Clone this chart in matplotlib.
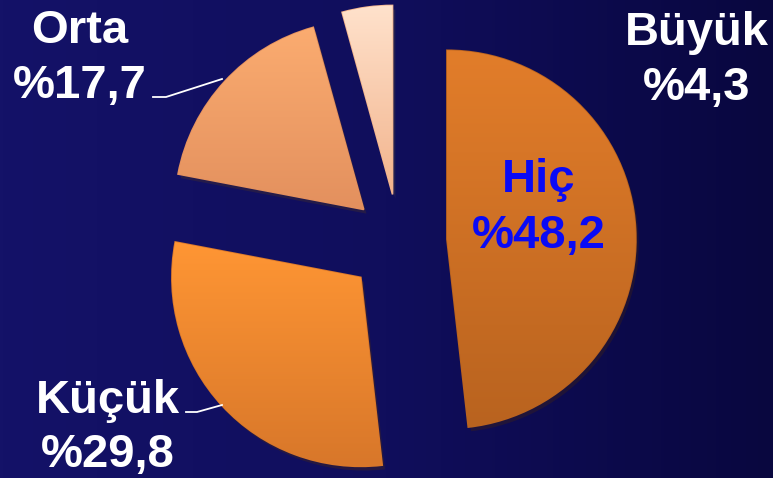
import numpy as np
import matplotlib
matplotlib.use("Agg")
import matplotlib.pyplot as plt
from matplotlib.colors import LinearSegmentedColormap
import matplotlib.patheffects as pe

# data
labels = ["Hiç", "Küçük", "Orta", "Büyük"]
values = [48.2, 29.8, 17.7, 4.3]
pct_text = ["%48,2", "%29,8", "%17,7", "%4,3"]

# slice colours (top, bottom of the soft gradient)
top_colors = ["#E27D2A", "#FF9634", "#FBAC70", "#FFE2CC"]
bot_colors = ["#B9631F", "#D8772A", "#E3905E", "#F2B38C"]
text_colors = ["#0A0AF5", "white", "white", "white"]

# label layout in pixel coords (x centre, baseline of name, baseline of pct)
label_pos = [(539, 192, 248), (108, 413, 467), (80, 43, 98), (697, 45, 100)]

W, H = 773, 478
fig = plt.figure(figsize=(W / 100, H / 100), dpi=100)
ax = fig.add_axes([0, 0, 1, 1])

# navy background, a bit darker towards the right
bg = LinearSegmentedColormap.from_list("bg", ["#141268", "#100E5C", "#09073F"])
grad = np.linspace(0, 1, 256).reshape(1, -1)
ax.imshow(grad, extent=(0, W, 0, H), cmap=bg, aspect="auto", zorder=0)

wedges, _ = ax.pie(values, startangle=90, counterclock=False,
                   radius=189, center=(399, H - 242),
                   explode=[48, 52, 48, 48],
                   colors=top_colors,
                   wedgeprops=dict(linewidth=1.2, zorder=2))

for w, c1, c2 in zip(wedges, top_colors, bot_colors):
    w.set_edgecolor(c2)
    bb = w.get_path().get_extents()
    cm = LinearSegmentedColormap.from_list("w", [c1, c2])
    g = np.linspace(0, 1, 256).reshape(-1, 1)
    im = ax.imshow(g, extent=(bb.x0, bb.x1, bb.y0, bb.y1), cmap=cm,
                   aspect="auto", origin="upper", zorder=3)
    im.set_clip_path(w)
    w.set_path_effects([pe.SimplePatchShadow(offset=(2, -3), alpha=0.35),
                        pe.Normal()])

# leader lines
ax.plot([153, 166, 222], [H - 97, H - 97, H - 79], color="white", lw=1.3, zorder=4)
ax.plot([186, 197, 222], [H - 412, H - 412, H - 405], color="white", lw=1.3, zorder=4)

for name, pct, col, (x, y1, y2) in zip(labels, pct_text, text_colors, label_pos):
    for s, y in ((name, y1), (pct, y2)):
        ax.text(x, H - y, s, color=col, fontsize=34, fontweight="bold",
                family="Liberation Sans", ha="center", va="baseline", zorder=5)

ax.set_xlim(0, W)
ax.set_ylim(0, H)
ax.set_aspect("auto")
ax.axis("off")

fig.savefig("out.png", dpi=100)
